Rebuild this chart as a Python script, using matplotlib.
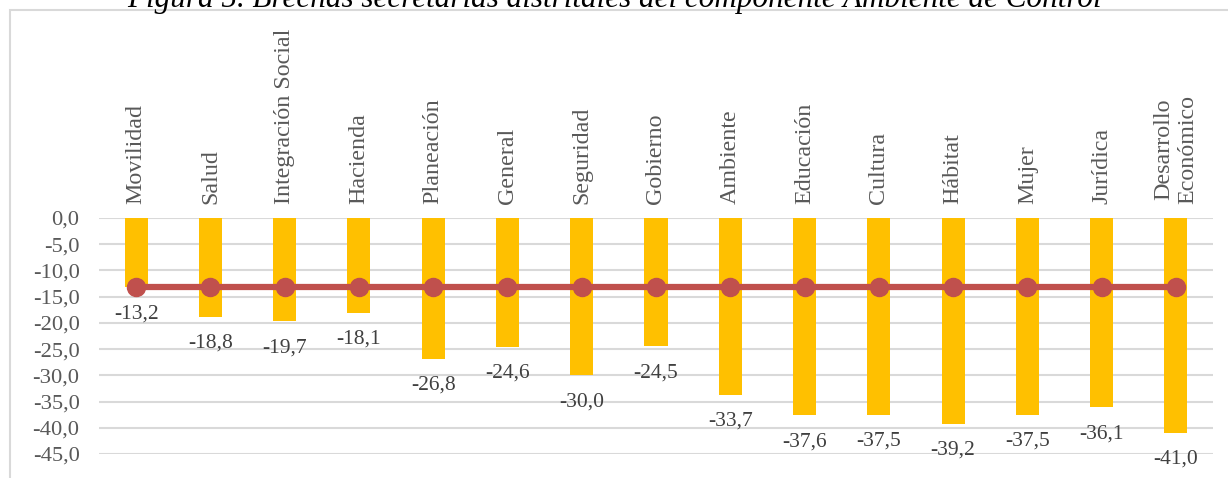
import matplotlib.pyplot as plt
from matplotlib.patches import Rectangle

secretarias = ["Movilidad", "Salud", "Integración Social", "Hacienda", "Planeación",
               "General", "Seguridad", "Gobierno", "Ambiente", "Educación", "Cultura",
               "Hábitat", "Mujer", "Jurídica", "Desarrollo\nEconómico"]
brechas = [-13.2, -18.8, -19.7, -18.1, -26.8, -24.6, -30.0, -24.5, -33.7, -37.6,
           -37.5, -39.2, -37.5, -36.1, -41.0]
referencia = [-13.2] * len(secretarias)
yticks = [0, -5, -10, -15, -20, -25, -30, -35, -40, -45]

plt.rcParams['font.family'] = ['Liberation Serif', 'DejaVu Serif']
gris = "#595959"

fig = plt.figure(figsize=(12.28, 4.78), dpi=100)
ax = fig.add_axes([99 / 1228, 1 - 454 / 478, 1114 / 1228, 236 / 478])

x = list(range(len(secretarias)))
ax.bar(x, brechas, width=0.31, color="#FFC000", zorder=2)
ax.plot(x, referencia, color="#C0504D", lw=4.5, marker="o", ms=13, zorder=3)

for xi, v in zip(x, brechas):
    ax.annotate(f"{v:.1f}".replace(".", ","), (xi, v), xytext=(0, -19),
                textcoords="offset points", ha="center", va="center",
                fontsize=15.5, color="#404040")

ax.set_xlim(-0.5, len(secretarias) - 0.5)
ax.set_ylim(-45, 0)
ax.set_yticks(yticks)
ax.set_yticklabels([f"{t:.1f}".replace(".", ",") for t in yticks], fontsize=16.2, color=gris)
for t in yticks:
    ax.axhline(t, color="#D9D9D9", lw=1.5, zorder=1)

ax.xaxis.tick_top()
ax.set_xticks(x)
ax.set_xticklabels(secretarias, rotation=90, fontsize=17.3, color=gris,
                   linespacing=1.2)
ax.tick_params(axis="x", length=0, pad=10)
ax.tick_params(axis="y", length=0, pad=14)
for s in ax.spines.values():
    s.set_visible(False)

# marco del gráfico y título
fig.patches.append(Rectangle((10 / 1228, -0.1), 1.1, 1.1 - 10.5 / 478,
                             transform=fig.transFigure, fill=False,
                             edgecolor="#D9D9D9", lw=1.5))
fig.text(0.5, 1 - 7 / 478, "Figura 5. Brechas secretarias distritales del componente Ambiente de Control",
         ha="center", va="baseline", fontsize=22.4, style="italic", color="black")

fig.savefig("out.png", dpi=100)
